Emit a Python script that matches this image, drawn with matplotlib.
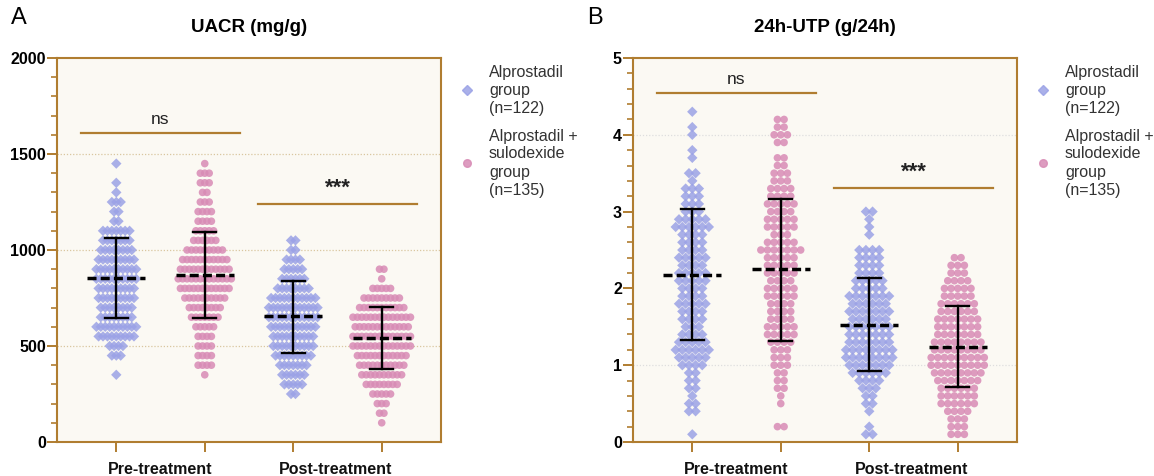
import numpy as np
import matplotlib.pyplot as plt
from matplotlib.ticker import MultipleLocator

plt.rcParams['font.family'] = ['Liberation Sans', 'DejaVu Sans']

# ---- data (bin value -> number of patients) ----
# panel A: UACR (mg/g), bins of 50
uacr_alp_pre_vals = [1450, 1350, 1300, 1250, 1200, 1150, 1100, 1050, 1000, 950, 900, 850,
                     800, 750, 700, 650, 600, 550, 500, 450, 350]
uacr_alp_pre_cnt = [1, 1, 1, 3, 2, 2, 7, 7, 8, 9, 10, 10, 9, 9, 8, 8, 10, 9, 4, 3, 1]

uacr_sul_pre_vals = [1450, 1400, 1350, 1300, 1250, 1200, 1150, 1100, 1050, 1000, 950, 900,
                     850, 800, 750, 700, 650, 600, 550, 500, 450, 400, 350]
uacr_sul_pre_cnt = [1, 3, 3, 2, 3, 4, 4, 5, 6, 9, 11, 12, 13, 12, 10, 8, 7, 5, 4, 4, 4, 4, 1]

uacr_alp_post_vals = [1050, 1000, 950, 900, 850, 800, 750, 700, 650, 600, 550, 500,
                      450, 400, 350, 300, 250]
uacr_alp_post_cnt = [2, 2, 4, 5, 6, 8, 11, 12, 12, 11, 10, 10, 9, 7, 6, 5, 2]

uacr_sul_post_vals = [900, 850, 800, 750, 700, 650, 600, 550, 500, 450, 400, 350,
                      300, 250, 200, 150, 100]
uacr_sul_post_cnt = [2, 1, 5, 9, 11, 14, 13, 14, 14, 12, 11, 10, 8, 5, 3, 2, 1]

# panel B: 24h-UTP (g/24h), bins of 0.1
utp_alp_pre_vals = [4.3, 4.1, 4.0, 3.8, 3.7, 3.5, 3.4, 3.3, 3.2, 3.1, 3.0, 2.9, 2.8, 2.7,
                    2.6, 2.5, 2.4, 2.3, 2.2, 2.1, 2.0, 1.9, 1.8, 1.7, 1.6, 1.5, 1.4,
                    1.3, 1.2, 1.1, 1.0, 0.9, 0.8, 0.7, 0.6, 0.5, 0.4, 0.1]
utp_alp_pre_cnt = [1, 1, 1, 1, 1, 2, 1, 3, 3, 3, 3, 5, 6, 4, 4, 4, 5, 4, 5, 5, 4, 4, 5,
                   4, 4, 3, 4, 5, 6, 5, 4, 2, 2, 2, 1, 2, 2, 1]

utp_sul_pre_vals = [4.2, 4.1, 4.0, 3.9, 3.7, 3.6, 3.5, 3.4, 3.3, 3.2, 3.1, 3.0, 2.9, 2.8,
                    2.7, 2.6, 2.5, 2.4, 2.3, 2.2, 2.1, 2.0, 1.9, 1.8, 1.7, 1.6, 1.5,
                    1.4, 1.3, 1.2, 1.1, 1.0, 0.9, 0.8, 0.7, 0.6, 0.5, 0.2]
utp_sul_pre_cnt = [2, 2, 3, 2, 2, 2, 3, 3, 4, 4, 5, 4, 5, 5, 3, 5, 7, 5, 5, 5, 4, 5, 5,
                   4, 4, 4, 5, 5, 4, 3, 3, 3, 2, 2, 2, 1, 1, 2]

utp_alp_post_vals = [3.0, 2.9, 2.8, 2.7, 2.5, 2.4, 2.3, 2.2, 2.1, 2.0, 1.9, 1.8, 1.7,
                     1.6, 1.5, 1.4, 1.3, 1.2, 1.1, 1.0, 0.9, 0.8, 0.7, 0.6, 0.5, 0.4,
                     0.2, 0.1]
utp_alp_post_cnt = [2, 1, 1, 1, 4, 4, 4, 4, 5, 5, 7, 6, 7, 6, 7, 7, 7, 8, 8, 7, 6, 4,
                    3, 2, 2, 1, 1, 2]

utp_sul_post_vals = [2.4, 2.3, 2.2, 2.1, 2.0, 1.9, 1.8, 1.7, 1.6, 1.5, 1.4, 1.3, 1.2,
                     1.1, 1.0, 0.9, 0.8, 0.7, 0.6, 0.5, 0.4, 0.3, 0.2, 0.1]
utp_sul_post_cnt = [2, 3, 3, 4, 5, 5, 6, 6, 7, 7, 7, 8, 8, 9, 9, 8, 7, 6, 6, 6, 4, 3,
                    3, 3]

# mean and mean +/- SD
uacr_mean = [855, 870, 655, 540]
uacr_lo = [645, 645, 465, 380]
uacr_hi = [1065, 1095, 840, 705]
utp_mean = [2.18, 2.25, 1.52, 1.24]
utp_lo = [1.33, 1.32, 0.92, 0.71]
utp_hi = [3.03, 3.17, 2.14, 1.77]

group_labels = ['Alprostadil\ngroup\n(n=122)', 'Alprostadil +\nsulodexide\ngroup\n(n=135)']
time_labels = ['Pre-treatment', 'Post-treatment']

BLUE = '#9ba2e6'
PINK = '#d88bb5'
BROWN = '#b07d30'
BG = '#fbf9f3'

W, H = 1154, 476
fig = plt.figure(figsize=(W / 100, H / 100), dpi=100)


def swarm(ax, pos, vals, cnts, color, marker, dx):
    xs, ys = [], []
    for v, k in zip(vals, cnts):
        for i in range(k):
            xs.append(pos + (i - (k - 1) / 2) * dx)
            ys.append(v)
    ax.scatter(xs, ys, s=30 if marker == 'o' else 28, marker=marker, color=color,
               edgecolors='none', alpha=0.85, zorder=3)


def panel(left_px, letter, title, groups, means, los, his, ymax, major, minor,
          grid_vals, grid_col, ns_y, star_y, dx):
    ax = fig.add_axes([left_px / W, 1 - 442 / H, 384 / W, 384 / H])
    ax.set_facecolor(BG)
    ax.set_xlim(-0.67, 3.67)
    ax.set_ylim(0, ymax)
    for gv in grid_vals:
        ax.axhline(gv, color=grid_col, lw=0.9, ls=(0, (1, 1.5)), zorder=1)
    for i, (vals, cnts) in enumerate(groups):
        col, mk = (BLUE, 'D') if i % 2 == 0 else (PINK, 'o')
        swarm(ax, i, vals, cnts, col, mk, dx)
        ax.plot([i - 0.33, i + 0.33], [means[i]] * 2, color='black', lw=2.5,
                dashes=(2.6, 1.2), zorder=5)
        ax.plot([i, i], [los[i], his[i]], color='black', lw=1.7, zorder=5)
        for yy in (los[i], his[i]):
            ax.plot([i - 0.13, i + 0.13], [yy, yy], color='black', lw=1.7, zorder=5)
    # significance bars
    for cx, yy, txt, wt, fs in [(0.5, ns_y, 'ns', 'normal', 12.5),
                                (2.5, star_y, '***', 'bold', 16)]:
        ax.plot([cx - 0.9, cx + 0.9], [yy, yy], color=BROWN, lw=1.6, zorder=4)
        ax.annotate(txt, (cx, yy), xytext=(0, 4), textcoords='offset points',
                    ha='center', va='bottom', fontsize=fs, fontweight=wt, color='#222222')
    for s in ax.spines.values():
        s.set_color(BROWN)
        s.set_linewidth(1.5)
    ax.set_xticks([0, 1, 2, 3])
    ax.set_xticklabels([])
    ax.yaxis.set_major_locator(MultipleLocator(major))
    ax.yaxis.set_minor_locator(MultipleLocator(minor))
    ax.tick_params(axis='both', which='major', color=BROWN, width=1.4, length=7)
    ax.tick_params(axis='y', which='minor', color=BROWN, width=1.2, length=4)
    ax.tick_params(axis='y', labelsize=11.5, pad=1)
    for lab in ax.get_yticklabels():
        lab.set_fontweight('bold')
    # time-point labels under each pair
    for j, t in enumerate(time_labels):
        xc = (left_px + 59 + 88 * (2 * j + 0.5)) / W
        fig.text(xc, 1 - 469 / H, t, ha='center', va='center', fontsize=11.5,
                 fontweight='bold', color='#111111')
    fig.text((left_px - 46) / W, 1 - 18 / H, letter, ha='left', va='center', fontsize=17)
    fig.text((left_px + 192) / W, 1 - 28 / H, title, ha='center', va='center',
             fontsize=13.5, fontweight='bold')
    # legend
    lx = left_px + 410
    for (yc, col, mk, lab) in [(90, BLUE, 'D', group_labels[0]), (163, PINK, 'o', group_labels[1])]:
        fig.lines.append(plt.Line2D([lx / W], [1 - yc / H], marker=mk, color=col,
                                    markersize=5.5, ls='none', alpha=0.85,
                                    transform=fig.transFigure))
        fig.text((lx + 22) / W, 1 - yc / H, lab, ha='left', va='center', fontsize=11.5,
                 color='#333333', linespacing=1.25)
    return ax


panel(57, 'A', 'UACR (mg/g)',
      [(uacr_alp_pre_vals, uacr_alp_pre_cnt), (uacr_sul_pre_vals, uacr_sul_pre_cnt),
       (uacr_alp_post_vals, uacr_alp_post_cnt), (uacr_sul_post_vals, uacr_sul_post_cnt)],
      uacr_mean, uacr_lo, uacr_hi, 2000, 500, 100, [500, 1000, 1500], '#d9c69f', 1610, 1240,
      0.05)

panel(633, 'B', '24h-UTP (g/24h)',
      [(utp_alp_pre_vals, utp_alp_pre_cnt), (utp_sul_pre_vals, utp_sul_pre_cnt),
       (utp_alp_post_vals, utp_alp_post_cnt), (utp_sul_post_vals, utp_sul_post_cnt)],
      utp_mean, utp_lo, utp_hi, 5, 1, 0.2, [1, 4], '#dedede', 4.55, 3.31,
      0.075)

fig.savefig('out.png', dpi=100, facecolor='white')
